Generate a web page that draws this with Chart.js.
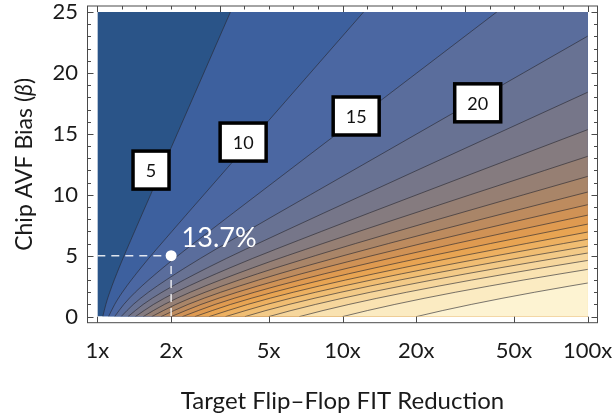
<!DOCTYPE html>
<html>
<head>
<meta charset="utf-8">
<script src="https://cdn.jsdelivr.net/npm/chart.js@4/dist/chart.umd.min.js"></script>
<style>
  html, body { margin: 0; padding: 0; background: #fff; }
  #wrap { width: 615px; height: 418px; position: relative; }
</style>
</head>
<body>
<div id="wrap"><canvas id="chart" width="615" height="418"></canvas></div>
<script>
// Share of flip-flops to protect (%), one contour every 5 %
const levels = [5, 10, 15, 20, 25, 30, 35, 40, 45, 50, 55, 60, 65, 70, 75, 80, 85, 90, 95];

// Contour paths as [FIT reduction, AVF bias β] pairs
const c05 = [[1.0526,0],[1.0836,1],[1.1237,2],[1.2265,4],[1.4196,7],[1.6487,10],[2.117,15],[2.718,20],[3.490,25],[4.482,30],[2000,30]];
const c10 = [[1.1111,0],[1.1772,1],[1.2653,2],[1.5056,4],[2.0156,7],[2.7185,10],[4.4817,15],[7.389,20],[12.18,25],[20.09,30],[2000,30]];
const c15 = [[1.1765,0],[1.2826,1],[1.4281,2],[1.8505,4],[2.8625,7],[4.4824,10],[9.488,15],[20.09,20],[42.52,25],[90.02,30],[2000,30]];
const c20 = [[1.25,0],[1.4021,1],[1.6163,2],[2.2777,4],[4.0665,7],[7.3912,10],[20.09,15],[54.6,20],[148.4,25]];
const c25 = [[1.3333,0],[1.5383,1],[1.8351,2],[2.8083,4],[5.7798,7],[12.189,10],[42.52,15],[148.4,20]];
const c30 = [[1.4286,0],[1.695,1],[2.0912,2],[3.4705,4],[8.2196,7],[20.103,10],[49.41,13],[121.5,16]];
const c35 = [[1.5385,0],[1.8768,1],[2.3935,2],[4.3004,4],[8.314,6],[16.53,8],[33.16,10],[66.71,12],[134.3,14]];
const c40 = [[1.6667,0],[2.0901,1],[2.7538,2],[3.7797,3],[5.3474,4],[11.305,6],[24.727,8],[54.73,10],[121.6,12]];
const c45 = [[1.8182,0],[2.3434,1],[3.1879,2],[4.5367,3],[6.679,4],[15.411,6],[37.04,8],[90.38,10],[141.5,11]];
const c50 = [[2,0],[2.6487,1],[3.7183,2],[5.4818,3],[8.389,4],[13.183,5],[21.086,6],[55.6,8],[149.4,10]];
const c55 = [[2.2222,0],[3.0235,1],[4.3774,2],[6.6794,3],[10.615,4],[17.368,5],[28.994,6],[49.05,7],[83.71,8],[143.7,9]];
const c60 = [[2.5,0],[3.4937,1],[5.2135,2],[8.2262,3],[13.559,4],[23.073,5],[40.15,6],[70.94,7],[126.6,8]];
const c65 = [[2.8571,0],[4.1002,1],[6.3027,2],[10.275,3],[17.543,4],[31.005,5],[56.16,6],[103.5,7]];
const c70 = [[3.3333,0],[4.9112,1],[7.7715,2],[13.076,3],[23.102,4],[42.34,5],[79.69,6],[152.9,7]];
const c75 = [[4,0],[4.8721,0.5],[6.0496,1],[9.8492,2],[17.087,3],[31.193,4],[59.19,5],[115.6,6]];
const c80 = [[5,0],[6.1682,0.5],[7.7608,1],[9.952,1.5],[12.991,2],[23.215,3],[43.74,4],[85.79,5],[121.6,5.5]];
const c85 = [[6.6667,0],[8.3292,0.5],[10.618,1],[13.799,1.5],[18.265,2],[33.58,3],[65.2,4],[132,5]];
const c90 = [[10,0],[12.652,0.5],[16.338,1],[21.514,1.5],[28.861,2],[54.55,3],[109,4]];
const c95 = [[20,0],[25.627,0.5],[33.513,1],[44.7,1.5],[60.75,2],[83.99,2.5],[117.9,3]];

// Fill colour of each band, from below 5 % up to above 95 %
const bandColors = [
  '#2a5488', '#3d609e', '#4b67a2', '#5a6d9c', '#687293', '#767689',
  '#857b7f', '#967f73', '#a98568', '#bd8b5e', '#d09255', '#df9a50',
  '#e8a452', '#edb060', '#f0bd72', '#f3ca87', '#f6d69c', '#f9e2b1',
  '#fbebc2', '#fdf3d2'
];

// Boxed contour labels
const labelText = ['5', '10', '15', '20'];
const labelR    = [1.656, 3.933, 11.37, 35.6];
const labelBeta = [12.03, 14.33, 16.47, 17.55];

// Highlighted operating point
const markR = 2;
const markBeta = 5;
const markValue = 13.7;

// Axis ticks
const xTicks = [1, 2, 5, 10, 20, 50, 100];
const yTicks = [0, 5, 10, 15, 20, 25];

const contours = [c05, c10, c15, c20, c25, c30, c35, c40, c45, c50, c55, c60, c65, c70, c75, c80, c85, c90, c95];

const FONT = 'Lato, "Noto Sans", sans-serif';
Chart.defaults.font.family = FONT;

const datasets = [];
// Lowest band covers the whole plot region
datasets.push({
  data: [{x: 1, y: 25}, {x: 100, y: 25}],
  showLine: true, pointRadius: 0,
  borderColor: 'rgba(0,0,0,0)', borderWidth: 1,
  backgroundColor: bandColors[0], fill: {value: 0},
  order: 100
});
contours.forEach((pts, i) => {
  datasets.push({
    label: levels[i] + '%',
    data: pts.map(p => ({x: p[0], y: p[1]})),
    showLine: true, pointRadius: 0,
    cubicInterpolationMode: 'monotone',
    borderColor: 'rgba(40,40,48,0.62)', borderWidth: 1,
    backgroundColor: bandColors[i + 1], fill: {value: 0},
    order: 99 - i
  });
});
// Guide lines to the operating point
datasets.push({
  data: [{x: 1, y: markBeta}, {x: markR, y: markBeta}, {x: markR, y: 0}],
  showLine: true,
  borderColor: 'rgba(255,255,255,0.85)', borderWidth: 1.5, borderDash: [8, 6],
  pointRadius: [0, 5.5, 0], pointBackgroundColor: '#ffffff', pointBorderWidth: 0,
  fill: false, order: 0
});

// Keep the bands inside the 1x-100x, 0-25 region
const plotClip = {
  id: 'plotClip',
  beforeDatasetsDraw(chart) {
    const {x, y} = chart.scales;
    const ctx = chart.ctx;
    const l = x.getPixelForValue(1), r = x.getPixelForValue(100);
    const t = y.getPixelForValue(25), b = y.getPixelForValue(0);
    ctx.save();
    ctx.beginPath();
    ctx.rect(l, t, r - l, b - t);
    ctx.clip();
  },
  afterDatasetsDraw(chart) { chart.ctx.restore(); }
};

// Frame, tick marks, labels and axis titles
const decorations = {
  id: 'decorations',
  afterDraw(chart) {
    const ctx = chart.ctx;
    const {x, y} = chart.scales;
    const a = chart.chartArea;
    ctx.save();
    ctx.strokeStyle = '#4a4a4a';
    ctx.lineWidth = 1;
    ctx.strokeRect(a.left, a.top, a.right - a.left, a.bottom - a.top);
    ctx.beginPath();
    for (let v = 0; v <= 25; v++) {
      const py = Math.round(y.getPixelForValue(v)) + 0.5;
      const len = v % 5 === 0 ? 6 : 3.5;
      ctx.moveTo(a.left, py); ctx.lineTo(a.left + len, py);
      ctx.moveTo(a.right, py); ctx.lineTo(a.right - len, py);
    }
    xTicks.forEach(v => {
      const px = Math.round(x.getPixelForValue(v)) + 0.5;
      ctx.moveTo(px, a.bottom); ctx.lineTo(px, a.bottom - 6);
    });
    for (let k = 0; k <= 20; k++) {
      const px = Math.round(x.getPixelForValue(Math.pow(10, k / 10))) + 0.5;
      const len = k % 5 === 0 ? 6 : 3.5;
      ctx.moveTo(px, a.top); ctx.lineTo(px, a.top + len);
    }
    ctx.stroke();

    // contour labels
    labelText.forEach((t, i) => {
      const cx = x.getPixelForValue(labelR[i]);
      const cy = y.getPixelForValue(labelBeta[i]);
      const w = t.length > 1 ? 46 : 36, h = 38;
      ctx.fillStyle = '#ffffff';
      ctx.fillRect(cx - w / 2, cy - h / 2, w, h);
      ctx.lineWidth = 3.5;
      ctx.strokeStyle = '#000000';
      ctx.strokeRect(cx - w / 2, cy - h / 2, w, h);
      ctx.fillStyle = '#111111';
      ctx.font = '18px ' + FONT;
      ctx.textAlign = 'center';
      ctx.textBaseline = 'middle';
      ctx.fillText(t, cx, cy + 1);
    });

    // operating point value
    const mx = x.getPixelForValue(markR), my = y.getPixelForValue(markBeta);
    ctx.fillStyle = '#ffffff';
    ctx.font = '27px ' + FONT;
    ctx.textAlign = 'left';
    ctx.textBaseline = 'alphabetic';
    ctx.fillText(markValue.toFixed(1) + '%', mx + 10.5, my - 8.5);

    // x title
    ctx.fillStyle = '#1a1a1a';
    ctx.font = '24px ' + FONT;
    ctx.textAlign = 'center';
    ctx.fillText('Target Flip\u2013Flop FIT Reduction', (a.left + a.right) / 2, 409);

    // y title with italic beta
    const parts = [['Chip AVF Bias (', 'normal'], ['\u03B2', 'italic'], [')', 'normal']];
    let total = 0;
    parts.forEach(p => { ctx.font = p[1] + ' 23px ' + FONT; total += ctx.measureText(p[0]).width; });
    ctx.translate(32, (a.top + a.bottom) / 2);
    ctx.rotate(-Math.PI / 2);
    ctx.textAlign = 'left';
    let ox = -total / 2;
    parts.forEach(p => {
      ctx.font = p[1] + ' 23px ' + FONT;
      ctx.fillText(p[0], ox, 0);
      ox += ctx.measureText(p[0]).width;
    });
    ctx.restore();
  }
};

function noPad(s) {
  s.paddingLeft = 0; s.paddingRight = 0; s.paddingTop = 0; s.paddingBottom = 0;
}

new Chart(document.getElementById('chart'), {
  type: 'scatter',
  data: { datasets },
  options: {
    responsive: false,
    animation: false,
    events: [],
    layout: { autoPadding: false, padding: { left: 0, top: 6, right: 17.5, bottom: 0 } },
    plugins: { legend: { display: false }, tooltip: { enabled: false } },
    scales: {
      x: {
        type: 'logarithmic',
        min: Math.pow(10, -0.04), max: Math.pow(10, 2.04),
        border: { display: false },
        grid: { display: false, drawTicks: false },
        afterBuildTicks: s => { s.ticks = xTicks.map(v => ({value: v})); },
        afterFit: s => { s.height = 95.3; noPad(s); },
        ticks: {
          autoSkip: false, maxRotation: 0, padding: 15,
          color: '#1a1a1a', font: { size: 22 },
          callback: v => v + 'x'
        }
      },
      y: {
        min: -0.5, max: 25.5,
        border: { display: false },
        grid: { display: false, drawTicks: false },
        afterBuildTicks: s => { s.ticks = yTicks.map(v => ({value: v})); },
        afterFit: s => { s.width = 87.5; noPad(s); },
        ticks: { padding: 9.5, color: '#1a1a1a', font: { size: 22 } }
      }
    }
  },
  plugins: [plotClip, decorations]
});
</script>
</body>
</html>
